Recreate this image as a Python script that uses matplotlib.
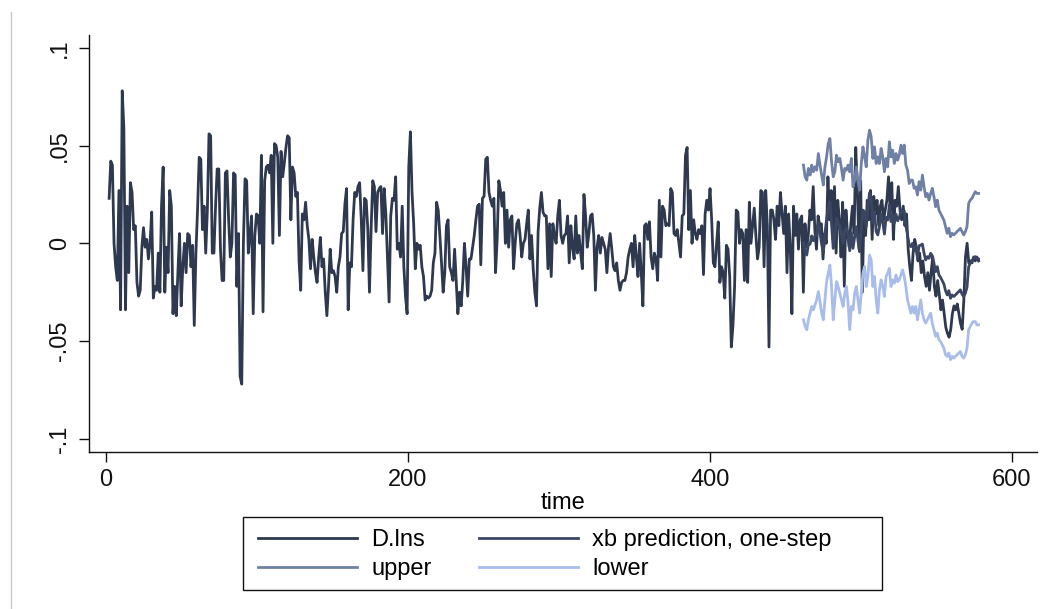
import numpy as np
import matplotlib.pyplot as plt
from matplotlib.lines import Line2D
from matplotlib.patches import Rectangle

plt.rcParams['font.family'] = ['Liberation Sans', 'DejaVu Sans']

# D.lns, read in consecutive stretches of the sample
dlns_a = [0.023, 0.042, 0.040, 0.000, -0.012, -0.019, 0.027, -0.034, 0.078, 0.059, -0.034, 0.019,
          -0.015, 0.031, 0.026, 0.007, 0.009, -0.020, -0.027, -0.024, -0.002, 0.008, -0.002, 0.002,
          -0.008, 0.000, 0.016, -0.028, -0.022, -0.024, -0.005, -0.025, 0.019, 0.039, -0.025, -0.002,
          -0.015, 0.027, 0.019, -0.036, -0.022, -0.037, -0.015, 0.005, -0.032, -0.012, 0.000, -0.015,
          0.005, 0.004, -0.012, -0.001, -0.042, -0.005, 0.017, 0.044, 0.043, 0.007, 0.019, -0.005,
          0.017, 0.056, 0.055, -0.005, -0.005, 0.019, 0.038, 0.038, -0.003, -0.019, -0.019, 0.036,
          0.037, 0.012, -0.007, 0.000, 0.036, 0.035, -0.022, 0.005, -0.068, -0.072, 0.000, 0.033,
          0.032, -0.005, 0.004, 0.014, -0.036, 0.004, 0.015, 0.014, 0.000, 0.045, -0.035, 0.032,
          0.039, 0.040, 0.036, 0.045, 0.000, 0.051, 0.050, 0.044, 0.004, 0.047, 0.034, 0.041,
          0.049, 0.055, 0.054, 0.012, 0.039, 0.036, 0.024, 0.026, -0.009, -0.024, 0.015, 0.012,
          0.021, 0.009]
dlns_b = [0.002, -0.013, 0.002, -0.007, -0.015, -0.020, -0.007, 0.003, -0.012, -0.008, -0.025, -0.037,
          -0.022, -0.003, -0.015, -0.014, -0.017, -0.025, -0.012, -0.007, 0.005, 0.006, 0.020, 0.028,
          -0.034, -0.010, -0.012, 0.012, 0.026, 0.024, 0.029, 0.031, 0.012, -0.014, 0.023, 0.022,
          0.007, -0.025, 0.007, 0.032, 0.029, 0.006, 0.026, 0.028, 0.029, 0.005, 0.028, 0.015,
          -0.008, -0.030, 0.014, 0.023, 0.022, 0.034, -0.003, 0.000, -0.007, 0.019, -0.012, -0.027,
          -0.036, 0.039, 0.057, 0.026, 0.010, -0.013, 0.000, -0.003, -0.001, -0.012, -0.017, -0.029,
          -0.027, -0.028, -0.027, -0.024, -0.010, -0.005, 0.021, 0.017, 0.004, -0.010, -0.025, -0.015,
          0.009, 0.012, -0.012, -0.015, -0.019, -0.003, -0.020, -0.036, -0.025, -0.032, -0.019, 0.000,
          -0.012, -0.027, -0.008, -0.008, -0.002, 0.004, 0.012, 0.019, 0.020, -0.011, 0.023, 0.024,
          0.043, 0.044, 0.026, 0.022, 0.019, 0.023, -0.015, 0.002, 0.032]
dlns_c = [0.027, 0.019, 0.026, 0.000, 0.017, -0.002, 0.012, 0.014, -0.013, 0.000, 0.010, 0.012,
          0.004, -0.007, 0.000, 0.002, 0.010, 0.017, -0.008, 0.004, -0.013, -0.025, -0.032, 0.006,
          0.018, 0.026, 0.016, 0.014, 0.014, -0.013, 0.010, -0.017, 0.010, 0.004, 0.000, 0.014,
          0.022, 0.004, 0.000, 0.004, 0.005, 0.014, -0.010, 0.009, -0.002, -0.008, 0.014, -0.005,
          0.004, -0.005, -0.013, 0.025, 0.014, -0.002, 0.005, 0.014, 0.015, 0.004, -0.024, -0.002,
          0.004, -0.005, 0.003, 0.000, -0.003, -0.015, -0.002, 0.005, -0.003, -0.012, -0.014, -0.010,
          -0.019, -0.024, -0.020, -0.019, -0.019, -0.015, -0.007, -0.003, 0.000, -0.012, 0.004, -0.007,
          -0.017, 0.000, -0.015, -0.032, 0.009, 0.010, 0.002, 0.011, -0.007, -0.013, -0.005, -0.008,
          -0.019, 0.022, -0.007, 0.019, 0.017, 0.009, 0.010, 0.009, 0.028, 0.026, 0.005, 0.004,
          0.007, 0.000, -0.007, 0.014, 0.015, 0.045, 0.049, 0.007, 0.027, 0.000]
dlns_d = [0.012, 0.005, 0.002, 0.007, 0.005, 0.009, -0.016, 0.015, 0.022, 0.017, 0.028, 0.012,
          -0.010, -0.012, 0.000, 0.011, -0.020, -0.012, -0.015, -0.028, -0.001, -0.003, -0.017, -0.053,
          -0.042, -0.022, 0.017, 0.016, 0.000, 0.007, 0.005, -0.019, 0.007, -0.020, 0.021, 0.000,
          0.009, 0.018, 0.004, -0.008, -0.002, 0.027, 0.026, -0.012, 0.027, 0.009, -0.053, 0.017,
          0.017, 0.012, 0.002, 0.019, 0.009, 0.026, 0.015, 0.005, 0.019, -0.015, 0.015, -0.002,
          -0.036, 0.019, 0.004, 0.015, -0.003, 0.012, 0.014, -0.025, 0.010, -0.002, 0.004, 0.017,
          0.012, 0.029, 0.007, -0.003, 0.014, 0.009, 0.010, -0.008, 0.005, 0.000, 0.034, 0.012,
          0.027, 0.002, 0.029, -0.005, 0.022, 0.012, -0.007, 0.021, -0.022, 0.017, 0.005, -0.002,
          0.010, 0.019, 0.005, 0.049, 0.027, -0.003, 0.032, -0.025, 0.015, 0.004, 0.022, 0.012,
          0.027, 0.002, 0.024, 0.015, 0.022, 0.009, 0.019, 0.022, 0.012, 0.017]
dlns_e = [0.022, 0.034, 0.017, 0.031, 0.002, 0.022, 0.019, 0.029, 0.017, 0.012, 0.019, 0.009,
          0.015, -0.003, -0.012, -0.019, -0.005, 0.002, -0.002, -0.009, -0.005, -0.015, -0.009, -0.017,
          -0.022, -0.015, -0.024, -0.015, -0.007, -0.022, -0.027, -0.019, -0.026, -0.034, -0.029, -0.036,
          -0.043, -0.046, -0.048, -0.044, -0.036, -0.032, -0.034, -0.031, -0.036, -0.041, -0.044, -0.029,
          -0.007, 0.000, -0.010, -0.009, -0.010, -0.007, -0.009, -0.007, -0.009]

# one-step forecast window
xb = [0.0004, -0.0043, -0.0060, -0.0004, -0.0004, 0.0038, 0.0013, 0.0038, 0.0043, 0.0106, 0.0051, -0.0004,
      -0.0047, 0.0051, 0.0123, 0.0179, 0.0213, 0.0098, -0.0026, 0.0038, 0.0128, 0.0098, 0.0089, 0.0047,
      0.0000, 0.0064, 0.0077, 0.0047, -0.0038, 0.0055, -0.0026, 0.0034, 0.0085, 0.0013, -0.0043, 0.0077,
      0.0170, 0.0162, 0.0085, 0.0179, 0.0259, 0.0230, 0.0106, 0.0162, 0.0060, 0.0043, 0.0085, 0.0149,
      0.0111, 0.0047, 0.0132, 0.0119, 0.0196, 0.0111, 0.0145, 0.0102, 0.0149, 0.0115, 0.0132, 0.0170,
      0.0162, 0.0166, 0.0089, 0.0043, -0.0009, -0.0017, 0.0000, -0.0038, -0.0017, -0.0072, -0.0013, -0.0009,
      -0.0004, -0.0051, -0.0085, -0.0068, -0.0077, -0.0051, -0.0064, -0.0102, -0.0145, -0.0119, -0.0162, -0.0174,
      -0.0191, -0.0208, -0.0242, -0.0264, -0.0242, -0.0281, -0.0264, -0.0272, -0.0264, -0.0255, -0.0247, -0.0238,
      -0.0260, -0.0272, -0.0255, -0.0225, -0.0119, -0.0102, -0.0089, -0.0077, -0.0068, -0.0081, -0.0081]
upper = [0.0400, 0.0340, 0.0323, 0.0383, 0.0349, 0.0400, 0.0366, 0.0391, 0.0374, 0.0459, 0.0400, 0.0349,
         0.0298, 0.0391, 0.0442, 0.0510, 0.0536, 0.0417, 0.0340, 0.0366, 0.0451, 0.0417, 0.0434, 0.0383,
         0.0323, 0.0383, 0.0374, 0.0400, 0.0366, 0.0434, 0.0289, 0.0323, 0.0391, 0.0315, 0.0272, 0.0408,
         0.0493, 0.0442, 0.0391, 0.0527, 0.0578, 0.0544, 0.0434, 0.0493, 0.0408, 0.0442, 0.0408, 0.0485,
         0.0442, 0.0366, 0.0434, 0.0391, 0.0519, 0.0442, 0.0476, 0.0408, 0.0459, 0.0425, 0.0451, 0.0502,
         0.0459, 0.0502, 0.0400, 0.0374, 0.0306, 0.0323, 0.0323, 0.0281, 0.0289, 0.0247, 0.0315, 0.0272,
         0.0349, 0.0289, 0.0238, 0.0255, 0.0221, 0.0255, 0.0281, 0.0238, 0.0187, 0.0221, 0.0170, 0.0153,
         0.0136, 0.0119, 0.0085, 0.0051, 0.0077, 0.0034, 0.0051, 0.0043, 0.0051, 0.0060, 0.0068, 0.0077,
         0.0060, 0.0043, 0.0060, 0.0085, 0.0204, 0.0221, 0.0230, 0.0247, 0.0264, 0.0255, 0.0255]
lower = [-0.0391, -0.0425, -0.0442, -0.0391, -0.0357, -0.0323, -0.0340, -0.0315, -0.0289, -0.0247, -0.0298, -0.0357,
         -0.0391, -0.0289, -0.0196, -0.0153, -0.0111, -0.0221, -0.0391, -0.0289, -0.0196, -0.0221, -0.0255, -0.0289,
         -0.0323, -0.0255, -0.0221, -0.0306, -0.0442, -0.0323, -0.0340, -0.0255, -0.0221, -0.0289, -0.0357, -0.0255,
         -0.0153, -0.0119, -0.0221, -0.0170, -0.0060, -0.0085, -0.0221, -0.0170, -0.0289, -0.0357, -0.0238, -0.0187,
         -0.0221, -0.0272, -0.0170, -0.0153, -0.0128, -0.0221, -0.0187, -0.0204, -0.0162, -0.0196, -0.0187, -0.0162,
         -0.0136, -0.0170, -0.0221, -0.0289, -0.0323, -0.0357, -0.0323, -0.0357, -0.0323, -0.0391, -0.0340, -0.0289,
         -0.0357, -0.0391, -0.0408, -0.0391, -0.0374, -0.0357, -0.0408, -0.0442, -0.0476, -0.0459, -0.0493, -0.0502,
         -0.0519, -0.0536, -0.0570, -0.0578, -0.0561, -0.0595, -0.0578, -0.0587, -0.0578, -0.0570, -0.0561, -0.0553,
         -0.0578, -0.0587, -0.0570, -0.0536, -0.0442, -0.0425, -0.0408, -0.0400, -0.0400, -0.0417, -0.0417]

dlns = np.array(dlns_a + dlns_b + dlns_c + dlns_d + dlns_e)
t_all = np.linspace(2, 578, len(dlns))
t_fc = np.linspace(462, 578, len(xb))

fig = plt.figure(figsize=(10.6, 6.09), dpi=100)
ax = fig.add_axes([0.084, 0.2578, 0.894, 0.6847])

lw = 2.0
h_d, = ax.plot(t_all, dlns, color='#2e3950', lw=lw, label='D.lns')
h_xb, = ax.plot(t_fc, xb, color='#3b4762', lw=lw, label='xb prediction, one-step')
h_up, = ax.plot(t_fc, upper, color='#6f80a5', lw=lw, label='upper')
h_lo, = ax.plot(t_fc, lower, color='#a9bdeb', lw=lw, label='lower')

ax.set_xlim(-11.3, 616.5)
ax.set_ylim(-0.1067, 0.1065)
ax.set_xticks([0, 200, 400, 600])
ax.set_yticks([-0.1, -0.05, 0, 0.05, 0.1])
ax.set_yticklabels(['-.1', '-.05', '0', '.05', '.1'], rotation=90, va='center')
ax.tick_params(axis='both', direction='out', length=7, width=1.0, colors='#111111', labelsize=17)
ax.tick_params(axis='y', pad=6)
ax.tick_params(axis='x', pad=5)
ax.set_xlabel('time', fontsize=17, labelpad=1)

for side in ['top', 'right']:
    ax.spines[side].set_visible(False)
for side in ['left', 'bottom']:
    ax.spines[side].set_linewidth(1.0)
    ax.spines[side].set_color('#111111')

# legend laid out row by row: D.lns | xb, upper | lower
handles = [h_d, h_up, h_xb, h_lo]
labels = [h.get_label() for h in handles]
ax.legend(handles, labels, ncol=2, loc='upper left', bbox_to_anchor=(258 / 1060, 1 - 529 / 609),
          bbox_transform=fig.transFigure, fontsize=17, frameon=False,
          handlelength=4.2, handletextpad=0.6, columnspacing=2.0, borderpad=0,
          borderaxespad=0, labelspacing=0.3)
fig.add_artist(Rectangle((243 / 1060, 1 - 590 / 609), 639 / 1060, 73 / 609,
                         transform=fig.transFigure, fill=False, edgecolor='#111111', lw=1.0))

# thin border on the left of the graph region
fig.add_artist(Line2D([0.0104, 0.0104], [0.0, 0.98], transform=fig.transFigure,
                      color='#c8c8c8', lw=1.0))

fig.savefig('out.png', dpi=100)
